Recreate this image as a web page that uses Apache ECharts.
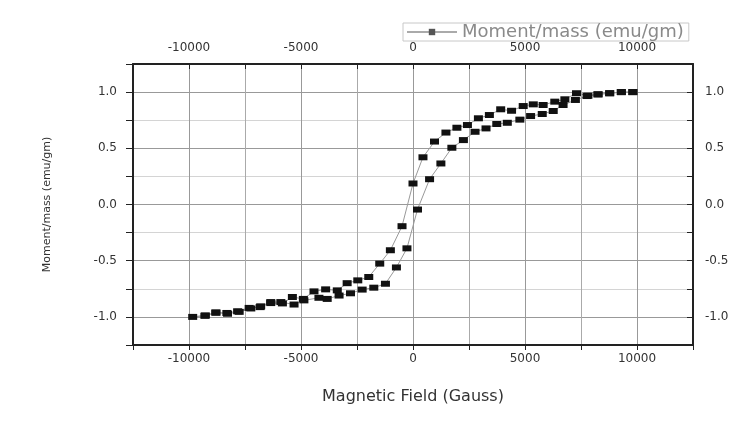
<!DOCTYPE html>
<html>
<head>
<meta charset="utf-8">
<script src="https://cdn.jsdelivr.net/npm/echarts@6/dist/echarts.min.js"></script>
<style>
html,body{margin:0;padding:0;background:#fff;}
#chart{width:737px;height:431px;}
</style>
</head>
<body>
<div id="chart"></div>
<script>
// Descending branch (upper), from +H to -H
const fieldDown = [9815, 9300, 8780, 8260, 7810, 7300, 6780, 6330, 5810, 5370, 4920, 4400, 3915, 3410, 2920, 2430, 1960, 1470, 960, 445, 0, -490, -1010, -1485, -1975, -2465, -2940, -3380, -3900, -4420, -4895, -5385, -5830, -6350, -6825, -7315, -7830, -8310, -8800, -9270, -9835];
const momentDown = [1.00, 1.00, 0.99, 0.98, 0.968, 0.99, 0.936, 0.915, 0.885, 0.891, 0.876, 0.834, 0.847, 0.796, 0.767, 0.707, 0.683, 0.64, 0.56, 0.42, 0.187, -0.193, -0.407, -0.526, -0.645, -0.675, -0.70, -0.764, -0.755, -0.773, -0.84, -0.823, -0.88, -0.877, -0.913, -0.92, -0.95, -0.965, -0.963, -0.987, -1.00];
// Ascending branch (lower), from -H to +H
const fieldUp = [-9290, -8800, -8280, -7760, -7240, -6800, -6350, -5900, -5310, -4870, -4200, -3830, -3300, -2790, -2270, -1750, -1230, -740, -270, 200, 740, 1245, 1735, 2250, 2770, 3260, 3740, 4210, 4770, 5250, 5770, 6260, 6700, 7250, 7770, 8260, 8780, 9300, 9815];
const momentUp = [-0.99, -0.96, -0.972, -0.955, -0.925, -0.906, -0.868, -0.868, -0.89, -0.853, -0.83, -0.84, -0.81, -0.79, -0.757, -0.74, -0.705, -0.56, -0.39, -0.045, 0.225, 0.365, 0.505, 0.573, 0.647, 0.677, 0.716, 0.727, 0.755, 0.787, 0.805, 0.832, 0.885, 0.93, 0.965, 0.98, 0.99, 1.00, 1.00];

const xTickLabels = [-10000, -5000, 0, 5000, 10000];
const yTickLabels = [-1.0, -0.5, 0.0, 0.5, 1.0];

const seriesName = 'Moment/mass (emu/gm)';
const loopData = fieldDown.map((x, i) => [x, momentDown[i]])
  .concat(fieldUp.map((x, i) => [x, momentUp[i]]));

const FONT = 'DejaVu Sans';
const xFmt = v => (xTickLabels.indexOf(v) >= 0 ? String(v) : '');
const yFmt = v => {
  const r = Math.round(v * 100) / 100;
  return yTickLabels.some(t => Math.abs(t - r) < 1e-6) ? r.toFixed(1) : '';
};
const axisLine = { show: true, onZero: false, lineStyle: { color: '#222', width: 2 } };

const chart = echarts.init(document.getElementById('chart'), null, { renderer: 'canvas' });
chart.setOption({
  animation: false,
  backgroundColor: '#fff',
  textStyle: { fontFamily: FONT },
  grid: { left: 133, right: 44, top: 64, bottom: 86, containLabel: false },
  legend: {
    left: 403, top: 23,
    padding: [0, 5, 0, 3],
    borderColor: '#c8c8c8', borderWidth: 1,
    itemWidth: 50, itemHeight: 8, itemGap: 3,
    textStyle: { fontFamily: FONT, fontSize: 18, color: '#8a8a8a', lineHeight: 17 },
    data: [{ name: seriesName, itemStyle: { color: '#555' }, lineStyle: { color: '#aaa' } }]
  },
  xAxis: [
    {
      type: 'value', position: 'bottom', min: -12500, max: 12500, interval: 2500,
      name: 'Magnetic Field (Gauss)', nameLocation: 'middle', nameGap: 44,
      nameTextStyle: { fontFamily: FONT, fontSize: 16, color: '#333' },
      axisLine: axisLine,
      axisTick: { show: true, inside: false, length: 5, lineStyle: { color: '#222' } },
      axisLabel: { formatter: xFmt, fontSize: 12, color: '#333', margin: 8, fontFamily: FONT },
      splitLine: { show: true, lineStyle: { color: ['#aaa', '#999'], width: 1 } }
    },
    {
      type: 'value', position: 'top', min: -12500, max: 12500, interval: 2500,
      axisLine: axisLine,
      axisTick: { show: true, inside: true, length: 5, lineStyle: { color: '#222' } },
      axisLabel: { formatter: xFmt, fontSize: 12, color: '#333', margin: 10, fontFamily: FONT },
      splitLine: { show: false }
    }
  ],
  yAxis: [
    {
      type: 'value', position: 'left', min: -1.25, max: 1.25, interval: 0.25,
      name: 'Moment/mass (emu/gm)', nameLocation: 'middle', nameGap: 80, nameRotate: 90,
      nameTextStyle: { fontFamily: FONT, fontSize: 11, color: '#333' },
      axisLine: axisLine,
      axisTick: { show: true, inside: false, length: 7, lineStyle: { color: '#222' } },
      axisLabel: { formatter: yFmt, fontSize: 12, color: '#333', margin: 16, fontFamily: FONT },
      splitLine: { show: true, lineStyle: { color: ['#d4d4d4', '#999'], width: 1 } }
    },
    {
      type: 'value', position: 'right', min: -1.25, max: 1.25, interval: 0.25,
      axisLine: axisLine,
      axisTick: { show: true, inside: true, length: 6, lineStyle: { color: '#222' } },
      axisLabel: { formatter: yFmt, fontSize: 12, color: '#333', margin: 12, fontFamily: FONT },
      splitLine: { show: false }
    }
  ],
  series: [{
    name: seriesName,
    type: 'line',
    xAxisIndex: 0, yAxisIndex: 0,
    data: loopData,
    symbol: 'rect', symbolSize: [9, 6], showAllSymbol: true,
    itemStyle: { color: '#111' },
    lineStyle: { color: '#999', width: 1 },
    z: 3
  }]
});
</script>
</body>
</html>
